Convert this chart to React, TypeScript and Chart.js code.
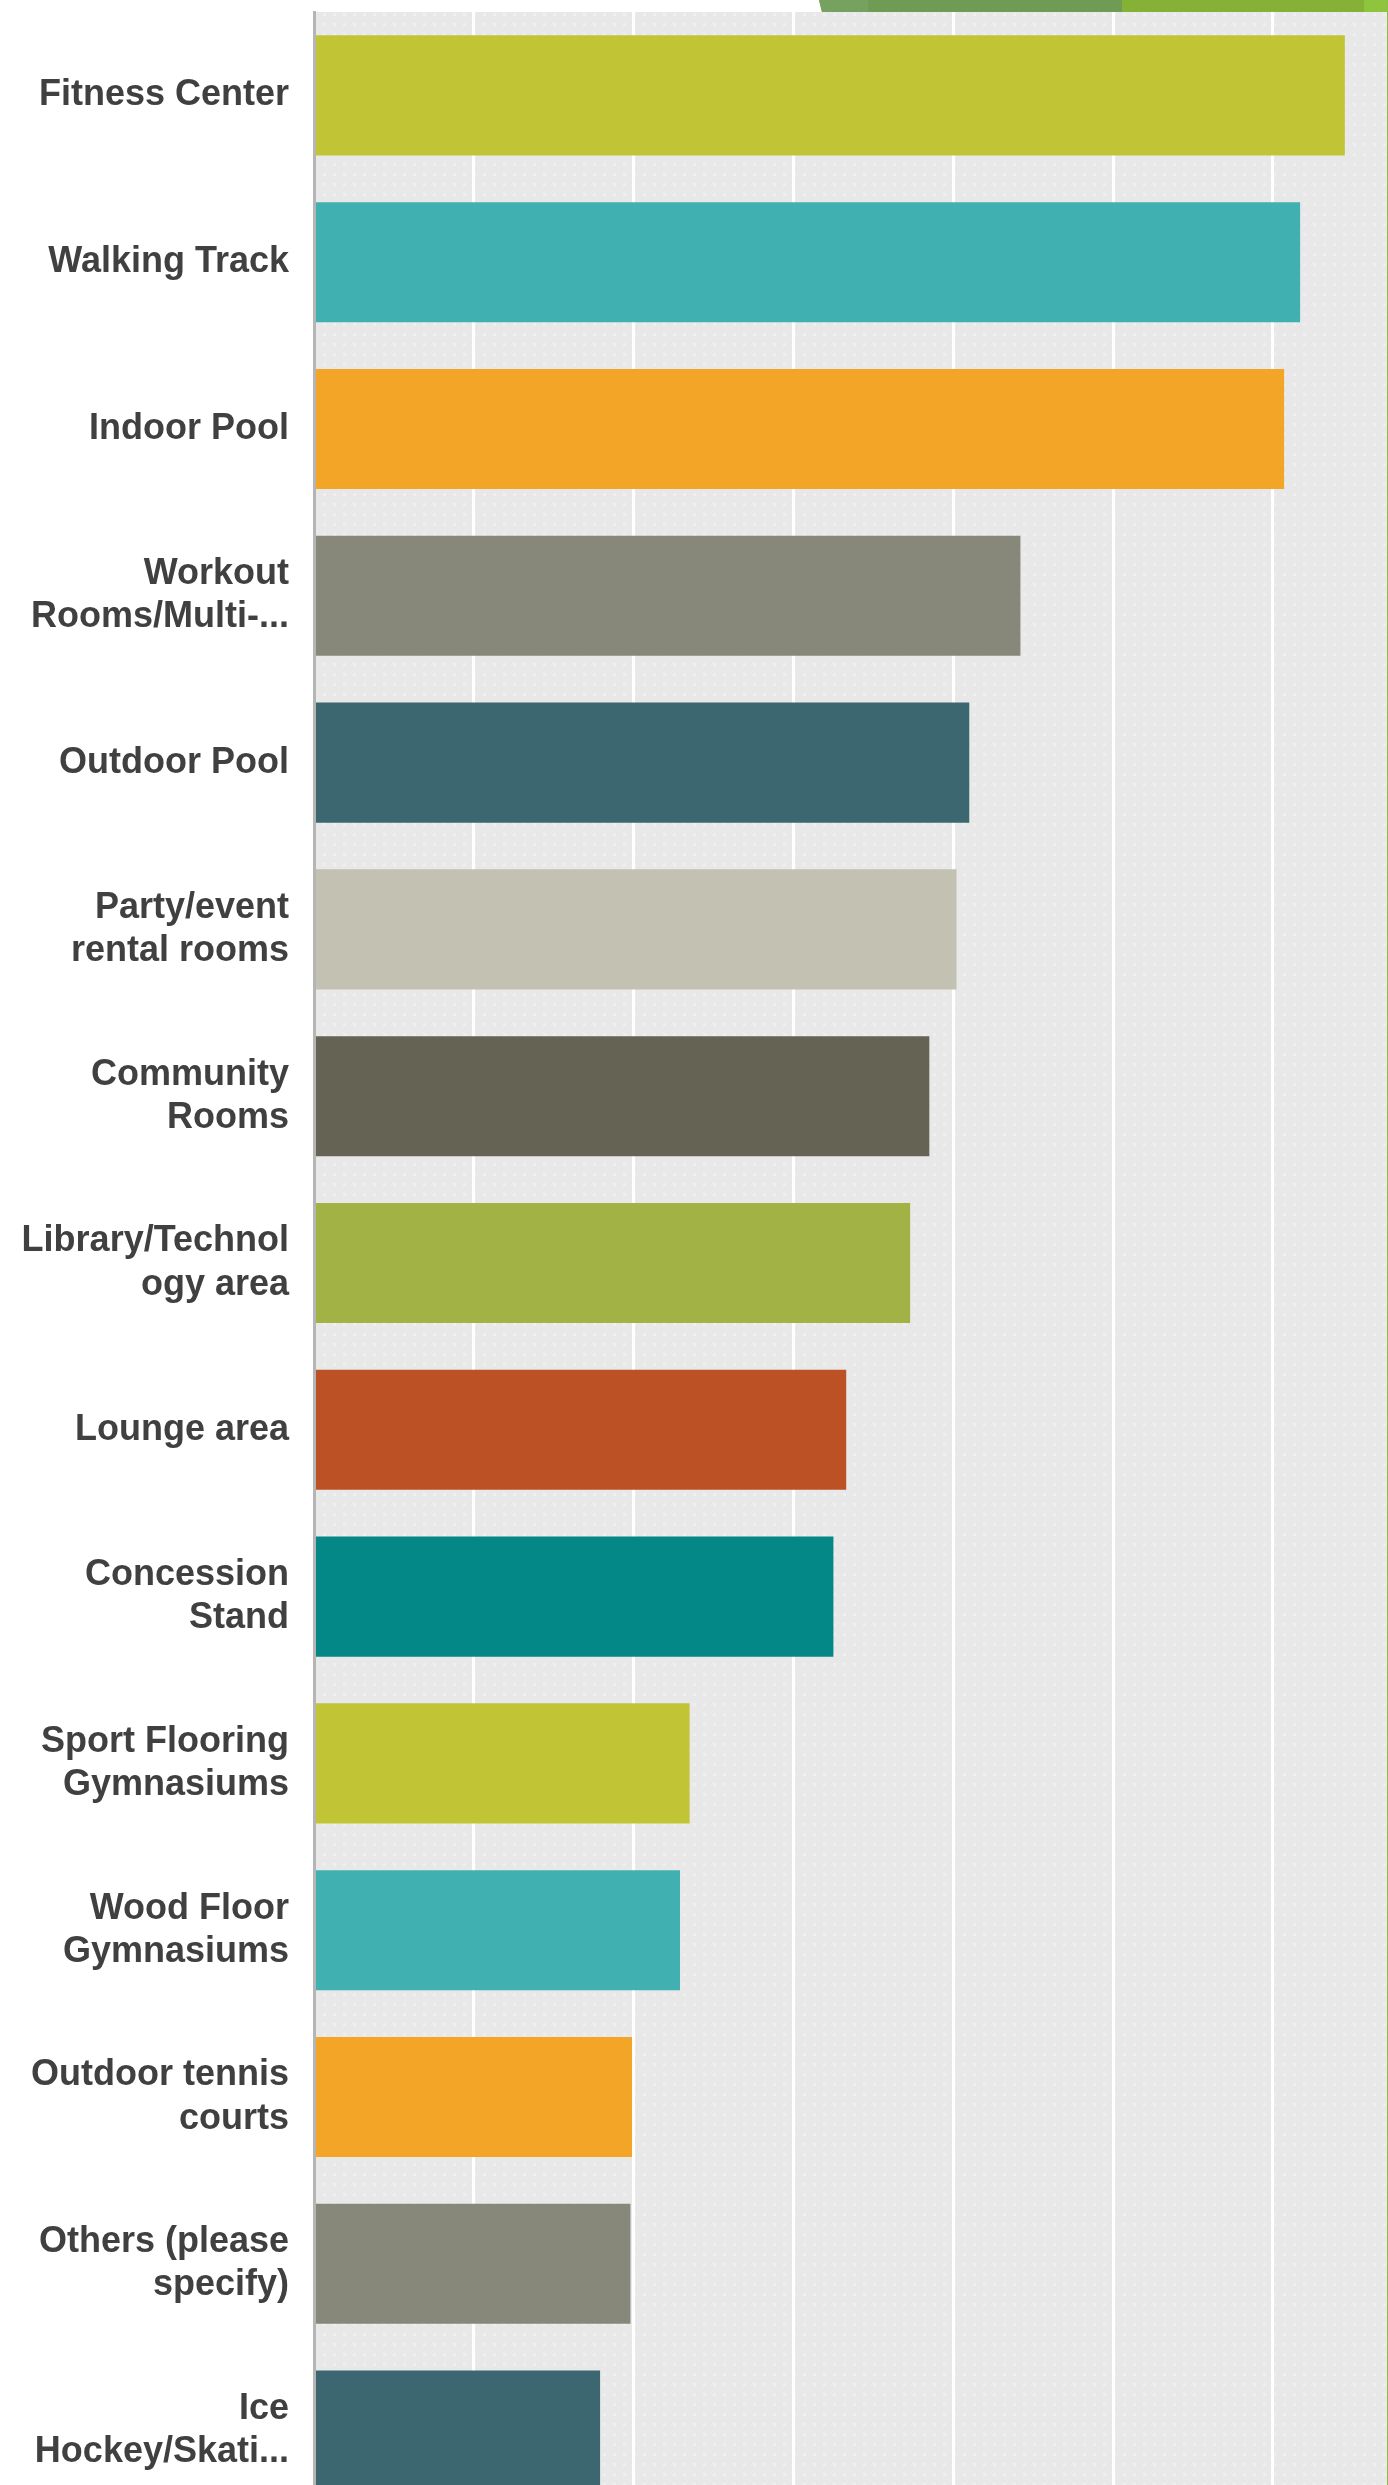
import React, { useEffect, useRef } from "react";
import { Chart, registerables } from "chart.js";

Chart.register(...registerables);

// Categories (as shown, already wrapped/truncated in the source)
const categories: (string | string[])[] = [
  "Fitness Center",
  "Walking Track",
  "Indoor Pool",
  ["Workout", "Rooms/Multi-..."],
  "Outdoor Pool",
  ["Party/event", "rental rooms"],
  ["Community", "Rooms"],
  ["Library/Technol", "ogy area"],
  "Lounge area",
  ["Concession", "Stand"],
  ["Sport Flooring", "Gymnasiums"],
  ["Wood Floor", "Gymnasiums"],
  ["Outdoor tennis", "courts"],
  ["Others (please", "specify)"],
  ["Ice", "Hockey/Skati..."],
];

// Share of responses (%)
const responsePercent: number[] = [
  64.5, 61.7, 60.7, 44.2, 41.0, 40.2, 38.5, 37.3, 33.3, 32.5, 23.5, 22.9, 19.9, 19.8, 17.9,
];

const barColors: string[] = [
  "#c1c535",
  "#41b0b1",
  "#f3a527",
  "#87877a",
  "#3d6770",
  "#c2c1b2",
  "#646354",
  "#a2b245",
  "#bb5125",
  "#038887",
  "#c1c535",
  "#41b0b1",
  "#f3a527",
  "#87877a",
  "#3d6770",
];

// Visible part of the value axis (the chart is cropped on the right)
const axisMin = 0;
const axisMaxVisible = 67.2;
const gridStep = 10;

const CANVAS_W = 1388;
const CANVAS_H = 2514;

function makePattern(): CanvasPattern | string {
  const c = document.createElement("canvas");
  c.width = 10;
  c.height = 10;
  const g = c.getContext("2d");
  if (!g) return "#e9e9e9";
  g.fillStyle = "#e8e8e8";
  g.fillRect(0, 0, 10, 10);
  g.fillStyle = "#efefef";
  g.fillRect(3, 3, 3, 3);
  const p = g.createPattern(c, "repeat");
  return p || "#e9e9e9";
}

const decorPlugin = {
  id: "decor",
  beforeDraw(chart: any) {
    const { ctx, chartArea } = chart;
    ctx.save();
    // plot background
    ctx.fillStyle = makePattern();
    ctx.fillRect(chartArea.left, chartArea.top, chart.width - chartArea.left, chartArea.bottom - chartArea.top);
    // slide decoration strip at top right
    const h = chartArea.top;
    ctx.fillStyle = "#709b55";
    ctx.beginPath();
    ctx.moveTo(819, 0);
    ctx.lineTo(1122, 0);
    ctx.lineTo(1122, h);
    ctx.lineTo(822, h);
    ctx.closePath();
    ctx.fill();
    ctx.fillStyle = "#77a15e";
    ctx.beginPath();
    ctx.moveTo(819, 0);
    ctx.lineTo(868, 0);
    ctx.lineTo(868, h);
    ctx.lineTo(822, h);
    ctx.closePath();
    ctx.fill();
    ctx.fillStyle = "#85b136";
    ctx.fillRect(1122, 0, 242, h);
    ctx.fillStyle = "#8fc43e";
    ctx.fillRect(1364, 0, 24, h);
    ctx.restore();
  },
  afterDraw(chart: any) {
    const { ctx } = chart;
    ctx.save();
    ctx.fillStyle = "#8dbf45";
    ctx.fillRect(chart.width - 1, 0, 1, chart.height);
    ctx.restore();
  },
};

export default function App() {
  const ref = useRef<HTMLCanvasElement | null>(null);

  useEffect(() => {
    if (!ref.current) return;
    const chart = new Chart(ref.current, {
      type: "bar",
      data: {
        labels: categories,
        datasets: [
          {
            data: responsePercent,
            backgroundColor: barColors,
            borderWidth: 0,
            barPercentage: 0.72,
            categoryPercentage: 1,
          },
        ],
      },
      options: {
        indexAxis: "y",
        responsive: false,
        maintainAspectRatio: false,
        animation: false,
        devicePixelRatio: 1,
        layout: { padding: { top: 12, left: 0, right: 0, bottom: 0 } },
        plugins: {
          legend: { display: false },
          tooltip: { enabled: false },
        },
        scales: {
          x: {
            min: axisMin,
            max: axisMaxVisible,
            afterFit: (s: any) => {
              s.height = 0;
              s.paddingLeft = 0;
              s.paddingRight = 0;
              s.paddingTop = 0;
              s.paddingBottom = 0;
            },
            ticks: { display: false, stepSize: gridStep },
            grid: {
              drawTicks: false,
              lineWidth: 3,
              color: (c: any) =>
                c.tick && c.tick.value > 0 && c.tick.value % gridStep === 0 ? "#ffffff" : "rgba(0,0,0,0)",
            },
            border: { display: false },
          },
          y: {
            afterFit: (s: any) => {
              s.width = 314;
              s.paddingTop = 0;
              s.paddingBottom = 0;
              s.paddingLeft = 0;
              s.paddingRight = 0;
            },
            ticks: {
              autoSkip: false,
              padding: 25,
              color: "#404040",
              font: { family: "'Liberation Sans', Arial, sans-serif", size: 36, weight: "bold", lineHeight: 1.2 },
            },
            grid: { display: false, drawTicks: false },
            border: { display: true, color: "#b5b5b5", width: 3, z: 1 },
          },
        },
      },
      plugins: [decorPlugin],
    } as any);
    return () => chart.destroy();
  }, []);

  return (
    <div
      style={{
        position: "absolute",
        left: 0,
        top: 0,
        width: CANVAS_W,
        height: 2485,
        overflow: "hidden",
        background: "#ffffff",
      }}
    >
      <canvas
        ref={ref}
        width={CANVAS_W}
        height={CANVAS_H}
        style={{ display: "block", width: CANVAS_W, height: CANVAS_H }}
      />
    </div>
  );
}
